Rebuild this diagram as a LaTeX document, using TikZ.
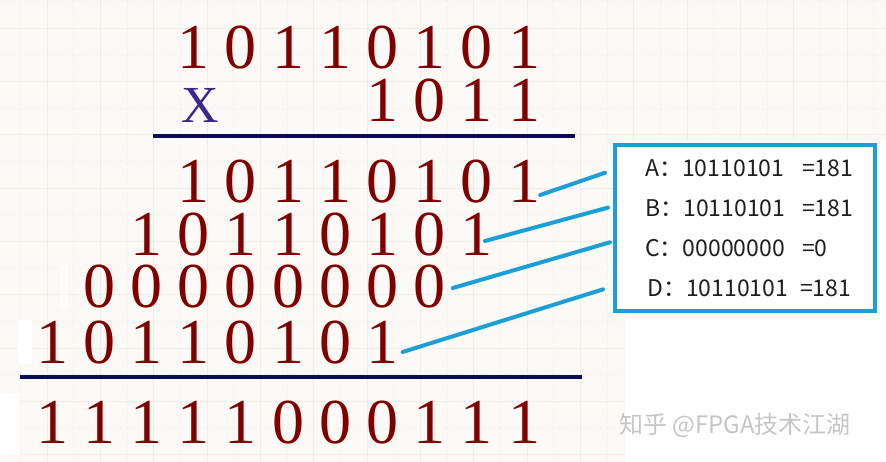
\documentclass[tikz,border=0pt]{standalone}
\usepackage{fontspec}
\setmainfont{Liberation Serif}
\newfontfamily\cjkfont{Noto Sans CJK SC}
\usetikzlibrary{calc}
\definecolor{bitred}{RGB}{128,0,0}
\definecolor{timesblue}{RGB}{58,40,140}
\definecolor{rulenavy}{RGB}{12,10,90}
\definecolor{linkblue}{RGB}{28,158,215}
\definecolor{papercream}{RGB}{252,250,246}
\definecolor{gridmajor}{RGB}{240,237,231}
\definecolor{gridminor}{RGB}{245,242,237}
\definecolor{markgray}{RGB}{198,198,198}
\begin{document}
\begin{tikzpicture}[x=1pt, y=-1pt,
  bit/.style={font=\fontsize{64}{64}\selectfont, text=bitred, inner sep=0pt, anchor=base},
  sumrule/.style={draw=rulenavy, line width=3.5pt},
  link/.style={draw=linkblue, line width=4pt, line cap=round},
  entry/.style={font=\cjkfont\fontsize{23}{23}\selectfont, text=black!88, inner sep=0pt, anchor=base west}
]
\useasboundingbox (0,0) rectangle (886,462);
\fill[papercream] (0,0) rectangle (886,462);
% faint sheet grid
\foreach \k in {0,...,16} {
  \draw[gridmajor] ({47+53.33*\k},0) -- ++(0,462);
  \draw[gridminor, dashed] ({20.3+53.33*\k},0) -- ++(0,462);
}
\foreach \k in {0,...,8} {
  \draw[gridmajor] (0,{28+53.33*\k}) -- ++(886,0);
  \draw[gridminor, dashed] (0,{1.3+53.33*\k}) -- ++(886,0);
}
\fill[white] (625,140) rectangle (886,462);
\fill[white] (60,265) rectangle (68,307);
\fill[white] (18,320) rectangle (32,364);
\fill[white] (0,393) rectangle (20,455);

% multiplicand and multiplier
\foreach \d [count=\i] in {1,0,1,1,0,1,0,1}
  \node[bit] (top-\i) at ({52+47.2*(\i+2)},69) {\d};
\node[font=\fontsize{52}{52}\selectfont, text=timesblue, inner sep=0pt, anchor=base] (times) at (200,123) {X};
\foreach \d [count=\i] in {1,0,1,1}
  \node[bit] (mul-\i) at ({52+47.2*(\i+6)},122) {\d};
\draw[sumrule] (153,136) -- (575,136);

% partial products
\foreach \d [count=\i] in {1,0,1,1,0,1,0,1}
  \node[bit] (pa-\i) at ({52+47.2*(\i+2)},203) {\d};
\foreach \d [count=\i] in {1,0,1,1,0,1,0,1}
  \node[bit] (pb-\i) at ({52+47.2*(\i+1)},256) {\d};
\foreach \d [count=\i] in {0,0,0,0,0,0,0,0}
  \node[bit] (pc-\i) at ({52+47.2*\i},308) {\d};
\foreach \d [count=\i] in {1,0,1,1,0,1,0,1}
  \node[bit] (pd-\i) at ({52+47.2*(\i-1)},363) {\d};
\draw[sumrule] (20,377) -- (582,377);

% product
\foreach \d [count=\i] in {1,1,1,1,1,0,0,0,1,1,1}
  \node[bit] (sum-\i) at ({52+47.2*(\i-1)},443) {\d};

% legend box
\node[draw=linkblue, line width=4pt, fill=white, minimum width=260pt, minimum height=166pt, inner sep=0pt] (legend) at (745,228) {};
\node[entry] (ta) at (645,177) {A：10110101};
\node[entry] (va) at (802,177) {=181};
\node[entry] (tb) at (645,217) {B：10110101};
\node[entry] (vb) at (802,217) {=181};
\node[entry] (tc) at (645,257) {C：00000000};
\node[entry] (vc) at (802,257) {=0};
\node[entry] (td) at (647,297) {D：10110101};
\node[entry] (vd) at (800,297) {=181};

\draw[link] ([yshift=8pt]pa-8.base east) -- ($(legend.north west)!0.175!(legend.south west)+(-8,0)$);
\draw[link] ([xshift=-8pt,yshift=15pt]pb-8.base east) -- ($(legend.north west)!0.38!(legend.south west)+(-5,0)$);
\draw[link] ([xshift=7pt,yshift=20pt]pc-8.base east) -- ($(legend.north west)!0.584!(legend.south west)+(-3,0)$);
\draw[link] ([xshift=4pt,yshift=11pt]pd-8.base east) -- ($(legend.north west)!0.861!(legend.south west)+(-10,0)$);

\node[font=\cjkfont\fontsize{24}{24}\selectfont, text=markgray, inner sep=0pt] (mark) at (735,425) {知乎 @FPGA技术江湖};
\end{tikzpicture}
\end{document}
